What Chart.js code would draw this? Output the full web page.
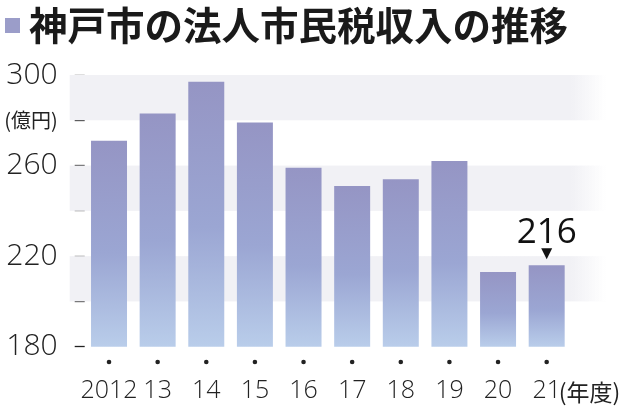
<!DOCTYPE html>
<html>
<head>
<meta charset="utf-8">
<script src="https://cdn.jsdelivr.net/npm/chart.js@4.4.0/dist/chart.umd.min.js"></script>
<style>
  html, body { margin: 0; padding: 0; background: #fff; }
</style>
</head>
<body>
<canvas id="revenue-chart" width="640" height="411"></canvas>
<script>
// data (億円)
const years = ['2012', '13', '14', '15', '16', '17', '18', '19', '20', '21'];
const revenue = [271, 283, 297, 279, 259, 251, 254, 262, 213, 216];
const yLabels = { 300: '300', 280: '(億円)', 260: '260', 220: '220', 180: '180' };
const bandRanges = [[280, 300], [240, 260], [200, 220]];
const titleText = '神戸市の法人市民税収入の推移';
const yearUnit = '(年度)';
const calloutIndex = 9;
const calloutText = '216';

const FONT = '"Noto Sans CJK JP", "Noto Sans", sans-serif';
const NUMFONT = '"Open Sans", "Noto Sans CJK JP", sans-serif';
const ink = '#222';

// grey bands behind the bars, fading out on the right
const bandsPlugin = {
  id: 'bands',
  beforeDatasetsDraw(chart) {
    const { ctx, chartArea, scales: { y } } = chart;
    const x0 = chartArea.left - 15;
    const x1 = chartArea.right + 35;
    const g = ctx.createLinearGradient(x0, 0, x1, 0);
    g.addColorStop(0, '#f1f1f5');
    g.addColorStop((chartArea.right - x0) / (x1 - x0), '#f1f1f5');
    g.addColorStop(1, 'rgba(241,241,245,0)');
    ctx.save();
    ctx.fillStyle = g;
    bandRanges.forEach(function(b) {
      const top = y.getPixelForValue(b[1]);
      const bot = y.getPixelForValue(b[0]);
      ctx.fillRect(x0, top, x1 - x0, bot - top);
    });
    ctx.restore();
  }
};

// title, dots over the year labels, (年度), and the 216 callout
const extrasPlugin = {
  id: 'extras',
  afterDraw(chart) {
    const { ctx, scales: { x } } = chart;
    ctx.save();
    // title
    ctx.fillStyle = '#9b9dc9';
    ctx.fillRect(5, 18, 15, 15);
    ctx.fillStyle = '#1a1a1a';
    ctx.font = 'bold 38.5px ' + FONT;
    ctx.textBaseline = 'middle';
    ctx.textAlign = 'left';
    ctx.fillText(titleText, 29, 25);

    // dots
    ctx.fillStyle = ink;
    years.forEach(function(_, i) {
      ctx.beginPath();
      ctx.arc(x.getPixelForValue(i), 362, 2.3, 0, Math.PI * 2);
      ctx.fill();
    });

    // unit after the last year
    ctx.font = '23px ' + FONT;
    ctx.textBaseline = 'middle';
    ctx.fillText(yearUnit, x.getPixelForValue(years.length - 1) + 12, 392);

    // callout on last bar
    const bar = chart.getDatasetMeta(0).data[calloutIndex];
    ctx.fillStyle = '#111';
    ctx.beginPath();
    ctx.moveTo(bar.x - 5.5, bar.y - 17);
    ctx.lineTo(bar.x + 5.5, bar.y - 17);
    ctx.lineTo(bar.x, bar.y - 6);
    ctx.closePath();
    ctx.fill();
    ctx.font = '35px ' + NUMFONT;
    ctx.textAlign = 'center';
    ctx.textBaseline = 'alphabetic';
    ctx.fillText(calloutText, bar.x, bar.y - 22);
    ctx.restore();
  }
};

function barGradient(context) {
  const chart = context.chart;
  if (!chart.chartArea) return '#9ea6d2';
  const y = chart.scales.y;
  const top = y.getPixelForValue(context.raw);
  const bot = y.getPixelForValue(y.min);
  const g = chart.ctx.createLinearGradient(0, top, 0, bot);
  g.addColorStop(0, '#9595c4');
  g.addColorStop(0.55, '#9ba6d3');
  g.addColorStop(1, '#b9cdea');
  return g;
}

const chart = new Chart(document.getElementById('revenue-chart'), {
  type: 'bar',
  data: {
    labels: years,
    datasets: [{
      data: revenue,
      backgroundColor: barGradient,
      borderWidth: 0,
      categoryPercentage: 1,
      barPercentage: 0.74
    }]
  },
  options: {
    responsive: false,
    animation: false,
    layout: { padding: { top: 75, right: 69, left: 0, bottom: 0 } },
    plugins: {
      legend: { display: false },
      tooltip: { enabled: false }
    },
    scales: {
      x: {
        grid: { display: false, drawTicks: false },
        border: { display: false },
        ticks: {
          color: ink,
          padding: 29,
          autoSkip: false,
          maxRotation: 0,
          font: { family: NUMFONT, size: 25, weight: 300 }
        },
        afterFit(scale) { scale.height = 64.3; }
      },
      y: {
        min: 180,
        max: 300,
        border: { display: false },
        grid: {
          drawOnChartArea: false,
          tickLength: 14,
          tickColor: ink,
          tickWidth: 1.3,
          tickBorderDash: [10, 20],
          tickBorderDashOffset: 26
        },
        ticks: {
          stepSize: 20,
          padding: 13,
          color: ink,
          callback: function(v) { return yLabels[v] || ''; },
          font: function(c) {
            if (c.tick && c.tick.value === 280) return { family: FONT, size: 20 };
            return { family: NUMFONT, size: 30, weight: 300 };
          }
        },
        afterFit(scale) { scale.width = 84.7; }
      }
    }
  },
  plugins: [bandsPlugin, extrasPlugin]
});
</script>
</body>
</html>
